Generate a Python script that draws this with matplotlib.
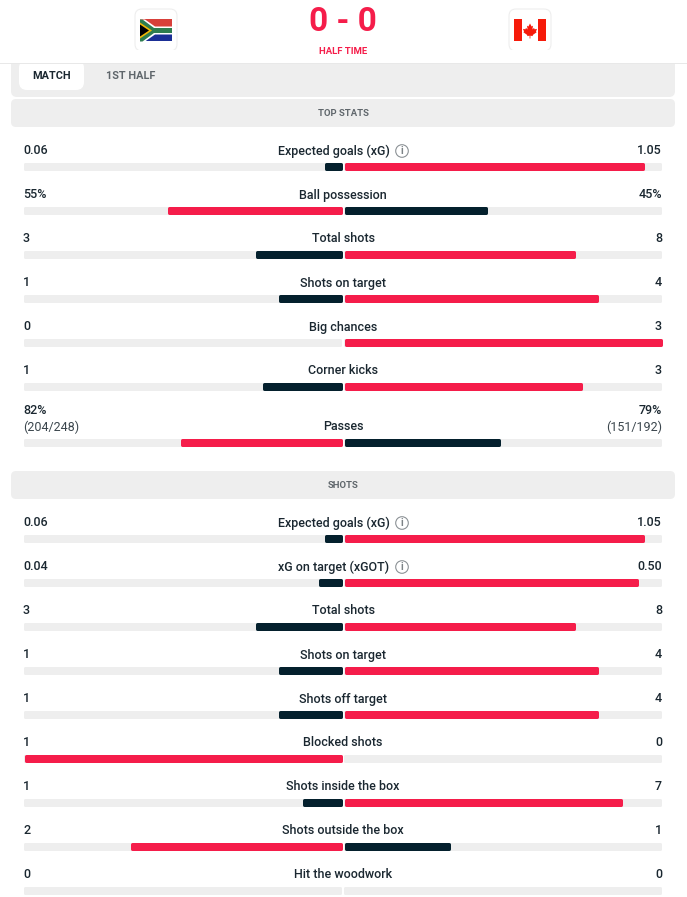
import numpy as np
import matplotlib
matplotlib.use("Agg")
import matplotlib.pyplot as plt
from matplotlib.patches import FancyBboxPatch, Rectangle, Polygon, Circle

# Stats per section
top_labels = ["Expected goals (xG)", "Ball possession", "Total shots", "Shots on target",
              "Big chances", "Corner kicks", "Passes"]
top_home = [0.06, 55, 3, 1, 0, 1, 82]
top_away = [1.05, 45, 8, 4, 3, 3, 79]
top_home_text = ["0.06", "55%", "3", "1", "0", "1", "82%"]
top_away_text = ["1.05", "45%", "8", "4", "3", "3", "79%"]

shot_labels = ["Expected goals (xG)", "xG on target (xGOT)", "Total shots", "Shots on target",
               "Shots off target", "Blocked shots", "Shots inside the box",
               "Shots outside the box", "Hit the woodwork"]
shot_home = [0.06, 0.04, 3, 1, 1, 1, 1, 2, 0]
shot_away = [1.05, 0.50, 8, 4, 4, 0, 7, 1, 0]
shot_home_text = ["0.06", "0.04", "3", "1", "1", "1", "1", "2", "0"]
shot_away_text = ["1.05", "0.50", "8", "4", "4", "0", "7", "1", "0"]

RED = "#F51D4A"
DARK = "#04202D"
TRACK = "#EEEEEE"
TEXT = "#1A2730"
GREY = "#5F666B"
FONT = "Roboto"

W, H = 687, 897
fig = plt.figure(figsize=(W / 100, H / 100), dpi=100)
ax = fig.add_axes([0, 0, 1, 1])
ax.set_xlim(0, W)
ax.set_ylim(H, 0)
ax.axis("off")

CENTER_L, CENTER_R = 342, 344
HALF = 318
BAR_H = 8
PX = 0.72  # points per pixel at dpi 100


def rounded(x0, y0, x1, y1, r, fc, ec="none", lw=0, z=1):
    ax.add_patch(FancyBboxPatch((x0 + r, y0 + r), x1 - x0 - 2 * r, y1 - y0 - 2 * r,
                                boxstyle=f"round,pad={r},rounding_size={r}",
                                fc=fc, ec=ec, lw=lw, zorder=z))


def fill_bar(x, width, y, color):
    # inset rectangle plus a round-joined edge gives the small corner radius
    r = 1.5
    if width <= 0:
        return
    ax.barh(y + BAR_H / 2, width - 2 * r, height=BAR_H - 2 * r, left=x + r, color=color,
            edgecolor=color, linewidth=2 * r * PX, joinstyle="round", zorder=3)


def draw_row(y, home, away):
    rounded(24, y, CENTER_L, y + BAR_H, 1.5, TRACK, z=2)
    rounded(CENTER_R, y, 662, y + BAR_H, 1.5, TRACK, z=2)
    total = home + away
    if total == 0:
        return
    w_home = HALF * home / total
    w_away = HALF * away / total
    c_home = RED if home > away else DARK
    c_away = RED if away >= home else DARK
    fill_bar(CENTER_L - w_home, w_home, y, c_home)
    fill_bar(CENTER_R, w_away, y, c_away)


def info_icon(x, y):
    ax.add_patch(Circle((x, y), 6.3, fc="white", ec="#8C9296", lw=0.8, zorder=4))
    ax.text(x, y + 0.3, "i", ha="center", va="center", fontsize=7.5, color="#7C8286",
            family=FONT, weight="bold", zorder=5)


def draw_section(y0, labels, home, away, home_text, away_text):
    for i, label in enumerate(labels):
        y = y0 + 44 * i
        if label == "Passes":
            y += 12
        draw_row(y, home[i], away[i])
        ty = y - 12
        if label == "Passes":
            ax.text(23, ty - 17, home_text[i], ha="left", va="center", fontsize=9, color=TEXT,
                    family=FONT, weight="medium")
            ax.text(662, ty - 17, away_text[i], ha="right", va="center", fontsize=9, color=TEXT,
                    family=FONT, weight="medium")
            ax.text(23, ty, "(204/248)", ha="left", va="center", fontsize=9, color="#3B464D", family=FONT)
            ax.text(662, ty, "(151/192)", ha="right", va="center", fontsize=9, color="#3B464D", family=FONT)
        else:
            ax.text(23, ty, home_text[i], ha="left", va="center", fontsize=9, color=TEXT,
                    family=FONT, weight="medium")
            ax.text(662, ty, away_text[i], ha="right", va="center", fontsize=9, color=TEXT,
                    family=FONT, weight="medium")
        if "(x" in label:
            ax.text(334, ty, label, ha="center", va="center", fontsize=9, color=TEXT,
                    family=FONT, weight="medium")
            info_icon(402, ty)
        else:
            ax.text(343, ty, label, ha="center", va="center", fontsize=9, color=TEXT,
                    family=FONT, weight="medium")


# Header band
ax.add_patch(Rectangle((0, 63.5), W, 1, fc="#E8E8E8", ec="none", zorder=1))
ax.text(343, 22, "0 - 0", ha="center", va="center", fontsize=24, color=RED, family=FONT, weight="bold")
ax.text(343, 51, "HALF TIME", ha="center", va="center", fontsize=6.8, color=RED, family=FONT, weight="bold")

# Team badges
for bx in (135, 509):
    rounded(bx, 9, bx + 42, 51, 7, "white", ec="#EEEEEE", lw=0.8, z=1)

# South Africa flag
fx, fy, fw, fh = 140, 19.5, 32, 22
ax.add_patch(Rectangle((fx, fy), fw, fh / 2, fc="#D8403A", zorder=2))
ax.add_patch(Rectangle((fx, fy + fh / 2), fw, fh / 2, fc="#1B2F96", zorder=2))
ax.add_patch(Polygon([(fx, fy), (fx + 5, fy), (fx + 15, fy + 7), (fx + fw, fy + 7), (fx + fw, fy + 15),
                      (fx + 15, fy + 15), (fx + 5, fy + fh), (fx, fy + fh)], fc="white", zorder=3))
ax.add_patch(Polygon([(fx, fy), (fx + 2.5, fy), (fx + 14, fy + 8.5), (fx + fw, fy + 8.5), (fx + fw, fy + 13.5),
                      (fx + 14, fy + 13.5), (fx + 2.5, fy + fh), (fx, fy + fh)], fc="#2E7D4F", zorder=4))
ax.add_patch(Polygon([(fx, fy + 3), (fx + 12, fy + 11), (fx, fy + 19)], fc="#F2B705", zorder=5))
ax.add_patch(Polygon([(fx, fy + 5), (fx + 9, fy + 11), (fx, fy + 17)], fc="black", zorder=6))

# Canada flag
fx = 514
ax.add_patch(Rectangle((fx, fy), 8, fh, fc="#F61A0A", zorder=2))
ax.add_patch(Rectangle((fx + 24, fy), 8, fh, fc="#F61A0A", zorder=2))
cx, cy = fx + 16, fy + 11
leaf = [(0, -7), (1.6, -4), (3, -4.8), (2.4, -1), (4, -2.6), (4.6, -1.2), (7, -1.6), (6, 1),
        (6.6, 1.8), (2.6, 4.6), (3, 5.6), (0.4, 5.2), (0.4, 8), (-0.4, 8), (-0.4, 5.2), (-3, 5.6),
        (-2.6, 4.6), (-6.6, 1.8), (-6, 1), (-7, -1.6), (-4.6, -1.2), (-4, -2.6), (-2.4, -1), (-3, -4.8), (-1.6, -4)]
ax.add_patch(Polygon([(cx + a, cy + b) for a, b in leaf], fc="#F61A0A", zorder=3))

# Tabs panel
ax.add_patch(FancyBboxPatch((17, 66), 652, 25, boxstyle="round,pad=6,rounding_size=6", fc=TRACK, ec="none", zorder=0))
ax.add_patch(Rectangle((11, 64.5), 664, 10, fc=TRACK, ec="none", zorder=0))
rounded(19, 60, 84, 90, 8, "white", z=1)
ax.add_patch(Rectangle((0, 50), W, 14, fc="white", ec="none", zorder=1.1))
ax.add_patch(Rectangle((0, 63.5), W, 1, fc="#E8E8E8", ec="none", zorder=1.2))
ax.text(51.5, 76, "MATCH", ha="center", va="center", fontsize=7.8, color=TEXT, family=FONT, weight="bold")
ax.text(131, 76, "1ST HALF", ha="center", va="center", fontsize=7.8, color=GREY, family=FONT, weight="bold")

# Section headings
rounded(11, 99, 675, 127, 5, TRACK)
ax.text(343, 113, "TOP STATS", ha="center", va="center", fontsize=6.8, color=GREY, family=FONT, weight="bold")
rounded(11, 471, 675, 499, 5, TRACK)
ax.text(343, 485, "SHOTS", ha="center", va="center", fontsize=6.8, color=GREY, family=FONT, weight="bold")

draw_section(163, top_labels, top_home, top_away, top_home_text, top_away_text)
draw_section(535, shot_labels, shot_home, shot_away, shot_home_text, shot_away_text)

# Redraw the team badges above the header strip
for bx in (135, 509):
    pass

fig.savefig("out.png", dpi=100)
